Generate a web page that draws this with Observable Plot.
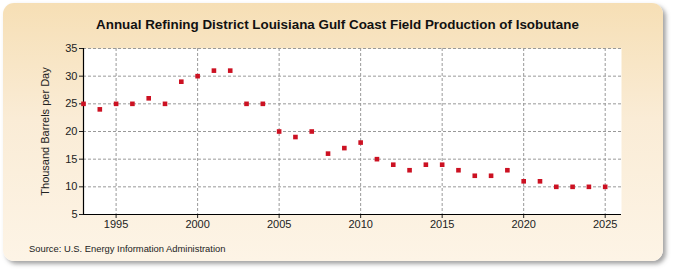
<!DOCTYPE html>
<html>
<head>
<meta charset="utf-8">
<script src="https://cdn.jsdelivr.net/npm/d3@7"></script>
<script src="https://cdn.jsdelivr.net/npm/@observablehq/plot@0.6"></script>
<style>
  html, body { margin: 0; padding: 0; background: #ffffff; }
  #wrap { position: relative; width: 675px; height: 275px; overflow: hidden; font-family: "Liberation Sans", Arial, sans-serif; }
  #panel { position: absolute; left: 3px; top: 3px; width: 660px; height: 258px; border-radius: 11px;
           background: linear-gradient(to bottom, #f6dfb5 0%, #faecd6 45%, #fdf4e6 100%);
           box-shadow: 3px 3px 4px rgba(90,90,90,0.55); }
  #title { position: absolute; left: 0; top: 17px; width: 675px; text-align: center; font-weight: bold;
           font-size: 13.4px; color: #111; }
  #source { position: absolute; left: 29px; top: 243px; font-size: 9.4px; color: #222; }
  #chart { position: absolute; left: 0; top: 0; }
</style>
</head>
<body>
<div id="wrap">
  <div id="panel"></div>
  <div id="title">Annual Refining District Louisiana Gulf Coast Field Production of Isobutane</div>
  <div id="chart"></div>
  <div id="source">Source: U.S. Energy Information Administration</div>
</div>
<script>
// Field production of isobutane, thousand barrels per day
const years = [1993, 1994, 1995, 1996, 1997, 1998, 1999, 2000, 2001, 2002, 2003, 2004, 2005, 2006, 2007, 2008, 2009,
               2010, 2011, 2012, 2013, 2014, 2015, 2016, 2017, 2018, 2019, 2020, 2021, 2022, 2023, 2024, 2025];
const values = [25, 24, 25, 25, 26, 25, 29, 30, 31, 31, 25, 25, 20, 19, 20, 16, 17,
                18, 15, 14, 13, 14, 14, 13, 12, 12, 13, 11, 11, 10, 10, 10, 10];
const xTicks = [1995, 2000, 2005, 2010, 2015, 2020, 2025];
const yTicks = [5, 10, 15, 20, 25, 30, 35];

const data = years.map((y, i) => ({year: y, value: values[i]}));

const chart = Plot.plot({
  width: 675,
  height: 235,
  marginLeft: 83,
  marginRight: 54,
  marginTop: 48,
  marginBottom: 21,
  style: {background: "transparent", fontFamily: "'Liberation Sans', Arial, sans-serif", fontSize: "11px", color: "#222", overflow: "visible"},
  x: {domain: [1993, 2026], ticks: xTicks, tickFormat: d => String(d)},
  y: {domain: [5, 35], ticks: yTicks},
  marks: [
    Plot.frame({fill: "white", stroke: null}),
    Plot.gridX(xTicks, {stroke: "#999", strokeOpacity: 1, strokeDasharray: "3,2"}),
    Plot.gridY(yTicks, {stroke: "#999", strokeOpacity: 1, strokeDasharray: "3,2"}),
    Plot.axisX({ticks: xTicks, tickSize: 4, tickPadding: 2, tickFormat: d => String(d), label: null, fontSize: 11}),
    Plot.axisY({ticks: yTicks, tickSize: 4, tickPadding: 2, label: null, fontSize: 11}),
    Plot.ruleY([5], {stroke: "#000", strokeWidth: 1.2}),
    Plot.ruleX([1993], {stroke: "#000", strokeWidth: 1.2}),
    Plot.dot(data, {x: "year", y: "value", symbol: "square", r: 2.6, fill: "#cc1122", stroke: null}),
    Plot.text(["Thousand Barrels per Day"], {frameAnchor: "left", textAnchor: "middle", dx: -38, rotate: -90, fontSize: 11, fill: "#222"})
  ]
});
document.getElementById("chart").appendChild(chart);
</script>
</body>
</html>
